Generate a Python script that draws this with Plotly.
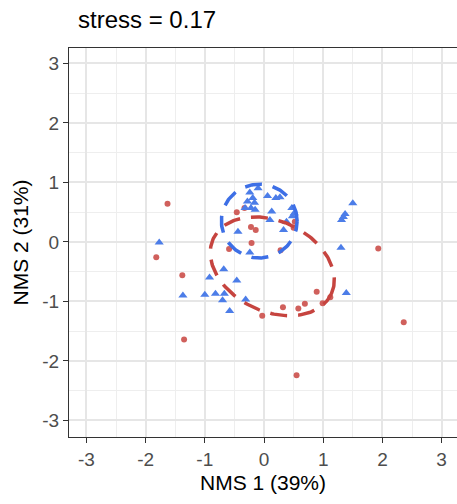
import numpy as np
import plotly.graph_objects as go

# Group A (red circles)
red_x = [-1.63, -1.82, -1.38, -1.35, -0.46, -0.33, -0.22, -0.14, -0.21, -0.59, 0.28, 0.52, 0.50,
         -0.03, 0.32, 0.58, 0.69, 0.89, 0.99, 1.12, 1.93, 2.36, 0.55]
red_y = [0.64, -0.26, -0.56, -1.64, 0.50, 0.57, 0.25, 0.20, -0.02, -0.12, -0.14, 0.34, 0.24,
         -1.24, -1.10, -1.12, -1.04, -0.84, -1.03, -0.93, -0.11, -1.35, -2.24]

# Group B (blue triangles)
blue_x = [-1.77, -1.37, -1.00, -0.82, -0.67, -0.70, -0.92, -0.68, -0.46, -0.31, -0.58, -0.44, -0.24,
          0.10, 0.13, 0.33, 0.06, 0.20, 0.27, 0.47, 0.51, 0.48, 0.38, -0.24, -0.19, -0.28, -0.16,
          -0.22, -0.32, -0.15, -0.10, 1.30, 1.39, 1.50, 1.37, 1.31, 1.34]
blue_y = [-0.01, -0.90, -0.89, -0.87, -0.87, -0.98, -0.60, -0.46, -0.65, -0.97, -1.16, 0.17, -0.18,
          0.37, 0.51, 0.20, 0.77, 0.74, 0.75, 0.57, 0.48, 0.43, 0.34, 0.83, 0.74, 0.68, 0.66,
          0.57, 0.57, 0.54, 0.90, -0.10, -0.86, 0.65, 0.47, 0.37, 0.42]

# Ellipse parameters: center x, center y, semi-axis a, semi-axis b, angle (deg)
red_ellipse = [0.14, -0.41, 1.10, 0.76, -25]
blue_ellipse = [-0.08, 0.35, 0.64, 0.62, 0]

tick_vals = [-3, -2, -1, 0, 1, 2, 3]
tick_text = ["-3", "-2", "-1", "0", "1", "2", "3"]

RED_PT = "#D0605C"
BLUE_PT = "#4C7DE8"
RED_EL = "#C6443F"
BLUE_EL = "#3D6FE6"


def ellipse(params, n=200):
    cx, cy, a, b, ang = params
    t = np.linspace(0, 2 * np.pi, n)
    th = np.deg2rad(ang)
    x = cx + a * np.cos(th) * np.cos(t) - b * np.sin(th) * np.sin(t)
    y = cy + a * np.sin(th) * np.cos(t) + b * np.cos(th) * np.sin(t)
    return x, y


fig = go.Figure()
fig.add_trace(go.Scatter(x=red_x, y=red_y, mode="markers",
                         marker=dict(symbol="circle", size=6, color=RED_PT),
                         showlegend=False))
fig.add_trace(go.Scatter(x=blue_x, y=blue_y, mode="markers",
                         marker=dict(symbol="triangle-up", size=8, color=BLUE_PT),
                         showlegend=False))
ex, ey = ellipse(red_ellipse)
fig.add_trace(go.Scatter(x=ex, y=ey, mode="lines",
                         line=dict(color=RED_EL, width=3.5, dash="17px,11px"),
                         showlegend=False))
ex, ey = ellipse(blue_ellipse)
fig.add_trace(go.Scatter(x=ex, y=ey, mode="lines",
                         line=dict(color=BLUE_EL, width=3.5, dash="17px,11px"),
                         showlegend=False))

axis_common = dict(
    tickvals=tick_vals, ticktext=tick_text,
    showgrid=True, gridcolor="#E6E6E6", gridwidth=1.6,
    minor=dict(dtick=0.5, tick0=0.5, showgrid=True, gridcolor="#EEEEEE", gridwidth=0.8),
    zeroline=False, automargin=False,
    ticks="outside", ticklen=5, tickwidth=1, tickcolor="#333333",
    tickfont=dict(family="Liberation Sans, Arial", size=19, color="#4D4D4D"),
    showline=True, linecolor="#333333", linewidth=1,
)

fig.update_layout(
    width=457, height=504,
    margin=dict(l=69, r=0, t=48, b=67),
    plot_bgcolor="white", paper_bgcolor="white",
    title=dict(text="stress = 0.17", x=78 / 457, xref="container", xanchor="left",
               y=1 - 20 / 504, yref="container", yanchor="middle",
               font=dict(family="Liberation Sans, Arial", size=24, color="black")),
    xaxis=dict(range=[-3.294, 3.26], mirror=True,
               title=dict(text="NMS 1 (39%)", standoff=6,
                          font=dict(family="Liberation Sans, Arial", size=21, color="black")),
               **axis_common),
    yaxis=dict(range=[-3.28, 3.26],
               title=dict(text="NMS 2 (31%)", standoff=7,
                          font=dict(family="Liberation Sans, Arial", size=21, color="black")),
               **axis_common),
)

fig.write_html("out.html",
               config={"displayModeBar": False},
               post_script="document.body.style.margin='0';document.body.style.overflow='hidden';")
